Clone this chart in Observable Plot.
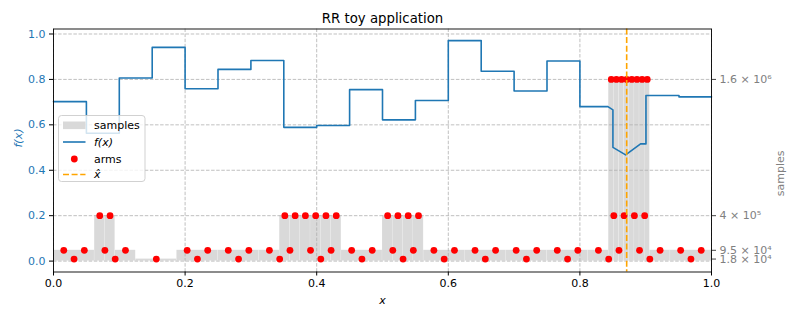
<!DOCTYPE html>
<html><head><meta charset="utf-8">
<script src="https://cdn.jsdelivr.net/npm/d3@7"></script>
<script src="https://cdn.jsdelivr.net/npm/@observablehq/plot@0.6"></script>
<style>body{margin:0;background:#fff}</style>
</head><body><div id="chart"></div>
<script>
// ---------- data ----------
const title = "RR toy application";
const xTicks = [0, 0.2, 0.4, 0.6, 0.8, 1.0];
const fTicks = [0, 0.2, 0.4, 0.6, 0.8, 1.0];
const sampleTicks = [18000, 95000, 400000, 1600000];
const sampleTickLabels = ["1.8 × 10⁴", "9.5 × 10⁴", "4 × 10⁵", "1.6 × 10⁶"];

// f(x) polyline vertices
const fX = [0, 0.05, 0.05, 0.1, 0.1, 0.15, 0.15, 0.2, 0.2, 0.25, 0.25, 0.3, 0.3, 0.35, 0.35, 0.4, 0.4, 0.45, 0.45, 0.5, 0.5, 0.55, 0.55, 0.6, 0.6, 0.65, 0.65, 0.7, 0.7, 0.75, 0.75, 0.8, 0.8, 0.8426, 0.8502, 0.8502, 0.8695, 0.8922, 0.9004, 0.9004, 0.9506, 0.9506, 1.0];
const fY = [0.702, 0.702, 0.563, 0.563, 0.806, 0.806, 0.941, 0.941, 0.759, 0.759, 0.844, 0.844, 0.883, 0.883, 0.589, 0.589, 0.597, 0.597, 0.755, 0.755, 0.622, 0.622, 0.707, 0.707, 0.971, 0.971, 0.836, 0.836, 0.749, 0.749, 0.881, 0.881, 0.680, 0.680, 0.666, 0.501, 0.468, 0.516, 0.516, 0.729, 0.729, 0.723, 0.723];

// sample bars (cell edges + samples per cell)
const barEdges = [0, 0.0625, 0.078125, 0.09375, 0.125, 0.1875, 0.25, 0.3125, 0.34375,
  0.359375, 0.375, 0.390625, 0.40625, 0.421875, 0.4375, 0.5,
  0.515625, 0.53125, 0.546875, 0.5625, 0.625, 0.6875, 0.75, 0.8125, 0.84375,
  0.8515625, 0.859375, 0.8671875, 0.875, 0.8828125, 0.890625, 0.8984375, 0.90625, 0.9375, 1.0];
const barSamples = [95000, 400000, 400000, 95000, 18000, 95000, 95000, 95000,
  400000, 400000, 400000, 400000, 400000, 400000, 95000,
  400000, 400000, 400000, 400000, 95000, 95000, 95000, 95000, 95000,
  1600000, 1600000, 1600000, 1600000, 1600000, 1600000, 1600000, 1600000, 95000, 95000];

// arms: x positions grouped by their sample count
const armLevels = [18000, 95000, 400000, 1600000];
const arms18k = [0.03125, 0.09375, 0.15625, 0.21875, 0.28125, 0.34375, 0.40625, 0.46875,
  0.53125, 0.59375, 0.65625, 0.71875, 0.78125, 0.84375, 0.90625, 0.96875];
const arms95k = [0.015625, 0.046875, 0.078125, 0.109375, 0.203125, 0.234375, 0.265625, 0.296875,
  0.328125, 0.359375, 0.390625, 0.421875, 0.453125, 0.484375, 0.515625, 0.546875, 0.578125,
  0.609375, 0.640625, 0.671875, 0.703125, 0.734375, 0.765625, 0.796875, 0.828125, 0.859375,
  0.890625, 0.921875, 0.953125, 0.984375];
const arms400k = [0.0703125, 0.0859375, 0.3515625, 0.3671875, 0.3828125, 0.3984375, 0.4140625,
  0.4296875, 0.5078125, 0.5234375, 0.5390625, 0.5546875, 0.8515625, 0.8671875, 0.8828125, 0.8984375];
const arms1600k = [0.84765625, 0.85546875, 0.86328125, 0.87109375, 0.87890625, 0.88671875, 0.89453125, 0.90234375];
const xHat = 0.87109375;

// ---------- build ----------
const S = 2e6; // samples per unit of the left axis (twin-axis ratio)
const bars = barSamples.map((s, i) => ({x1: barEdges[i], x2: barEdges[i + 1], s}));
const arms = [arms18k, arms95k, arms400k, arms1600k]
  .flatMap((xs, k) => xs.map(x => ({x, s: armLevels[k]})));
const fLine = fX.map((x, i) => ({x, y: fY[i]}));
const rightTicks = sampleTicks.map(s => s / S);
const rightLabel = d => sampleTickLabels[rightTicks.findIndex(t => Math.abs(t - d) < 1e-9)];

const blue = "#1f77b4";
const gridStyle = {stroke: "#b0b0b0", strokeOpacity: 1, strokeWidth: 0.8, strokeDasharray: "3.5,1.6"};

const chart = Plot.plot({
  width: 797, height: 319,
  marginLeft: 53, marginRight: 86, marginTop: 28.5, marginBottom: 47.5,
  style: {fontFamily: "DejaVu Sans", fontSize: "11px", background: "white", color: "black"},
  x: {domain: [0, 1], label: null},
  y: {domain: [-0.048, 1.022], label: null},
  marks: [
    Plot.rectY(bars, {x1: "x1", x2: "x2", y1: 0, y2: d => d.s / S, fill: "#d9d9d9", stroke: "white", strokeOpacity: 0.25, strokeWidth: 0.5}),
    Plot.gridY(fTicks, gridStyle),
    Plot.gridX(xTicks, gridStyle),
    Plot.line(fLine, {x: "x", y: "y", stroke: blue, strokeWidth: 1.6}),
    Plot.dot(arms, {x: "x", y: d => d.s / S, r: 3.4, fill: "red"}),
    Plot.ruleX([xHat], {stroke: "orange", strokeWidth: 1.6, strokeDasharray: "6,2.6"}),
    Plot.frame({stroke: "black", strokeWidth: 0.9}),
    Plot.axisX(xTicks, {tickFormat: d => d.toFixed(1), tickSize: 4, tickPadding: 3, fontSize: 11, label: null}),
    Plot.axisY(fTicks, {tickFormat: d => d.toFixed(1), tickSize: 4, tickPadding: 4, fill: blue, stroke: "black", fontSize: 11, label: null}),
    Plot.axisY(rightTicks, {anchor: "right", tickFormat: rightLabel, tickSize: 4, tickPadding: 4, fill: "gray", stroke: "#444", fontSize: 11, label: null}),
    Plot.text([title], {text: d => d, frameAnchor: "top", lineAnchor: "middle", dy: -10.5, fontSize: 13.3, fill: "black"}),
    Plot.text(["x"], {text: d => d, frameAnchor: "bottom", lineAnchor: "middle", dy: 28.5, fontSize: 11, fontStyle: "italic", fill: "black"}),
    Plot.text(["f(x)"], {text: d => d, frameAnchor: "left", lineAnchor: "middle", dx: -35, dy: -3, rotate: -90, fontSize: 11, fontStyle: "italic", fill: blue}),
    Plot.text(["samples"], {text: d => d, frameAnchor: "right", lineAnchor: "middle", dx: 69, rotate: -90, fontSize: 11, fill: "gray"})
  ]
});
document.getElementById("chart").appendChild(chart);

// ---------- legend ----------
const svg = d3.select(chart);
const lg = svg.append("g").attr("font-family", "DejaVu Sans").attr("font-size", 11).attr("text-anchor", "start");
lg.append("rect").attr("x", 58.5).attr("y", 115.5).attr("width", 86.5).attr("height", 66)
  .attr("rx", 3).attr("fill", "white").attr("fill-opacity", 0.8).attr("stroke", "#cccccc").attr("stroke-width", 0.9);
const rows = [125.3, 142, 159, 174.5];
lg.append("rect").attr("x", 63).attr("y", rows[0] - 3.8).attr("width", 22.5).attr("height", 7.6).attr("fill", "#d9d9d9");
lg.append("line").attr("x1", 63).attr("x2", 85.5).attr("y1", rows[1]).attr("y2", rows[1]).attr("stroke", blue).attr("stroke-width", 1.6);
lg.append("circle").attr("cx", 74.3).attr("cy", rows[2]).attr("r", 3.4).attr("fill", "red");
lg.append("line").attr("x1", 63).attr("x2", 85.5).attr("y1", rows[3]).attr("y2", rows[3]).attr("stroke", "orange").attr("stroke-width", 1.6).attr("stroke-dasharray", "6,2.6");
const labels = [["samples", "normal"], ["f(x)", "italic"], ["arms", "normal"], ["x\u0302", "italic"]];
labels.forEach(([t, st], i) => {
  lg.append("text").attr("x", 94).attr("y", rows[i]).attr("dy", "0.35em").attr("text-anchor", "start")
    .attr("font-style", st).attr("fill", "black").text(t);
});
</script></body></html>
